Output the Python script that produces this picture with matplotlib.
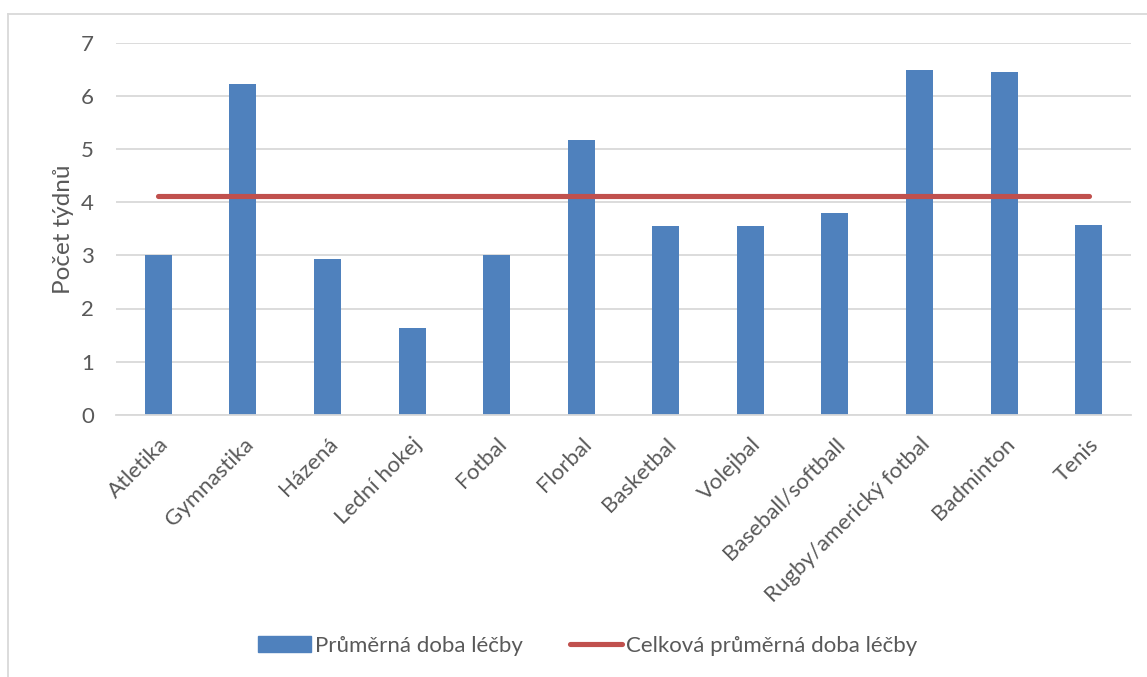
import matplotlib
matplotlib.use("Agg")
import matplotlib.pyplot as plt
from matplotlib.patches import Patch
from matplotlib.lines import Line2D
import numpy as np

plt.rcParams['font.family'] = ['Lato', 'DejaVu Sans']

sports = ["Atletika", "Gymnastika", "Házená", "Lední hokej", "Fotbal", "Florbal",
          "Basketbal", "Volejbal", "Baseball/softball", "Rugby/americký fotbal",
          "Badminton", "Tenis"]
avg_weeks = [3.0, 6.23, 2.94, 1.63, 3.0, 5.17, 3.55, 3.55, 3.80, 6.50, 6.46, 3.57]
overall_avg = 4.11

bar_label = "Průměrná doba léčby"
line_label = "Celková průměrná doba léčby"
y_label = "Počet týdnů"

bar_color = "#4f81bd"
line_color = "#c0504d"
text_color = "#595959"
grid_color = "#d9d9d9"

W, H = 1147, 677
fig = plt.figure(figsize=(W / 100, H / 100), dpi=100)
ax = fig.add_axes([116 / W, 1 - 414.7 / H, (1131 - 116) / W, (414.7 - 43) / H])

x = np.arange(len(sports))
ax.bar(x, avg_weeks, width=0.32, color=bar_color, zorder=2)
ax.plot([x[0], x[-1]], [overall_avg, overall_avg], color=line_color, lw=3.7,
        solid_capstyle='round', zorder=3)

ax.set_xlim(-0.5, len(sports) - 0.5)
ax.set_ylim(0, 7)
ax.set_yticks(range(0, 8))
ax.yaxis.grid(True, color=grid_color, lw=1.3, zorder=0)
ax.set_axisbelow(True)
for s in ["top", "right", "left"]:
    ax.spines[s].set_visible(False)
ax.spines["bottom"].set_color(grid_color)
ax.spines["bottom"].set_linewidth(1.3)
ax.tick_params(axis='both', length=0, colors=text_color, labelsize=16)
ax.tick_params(axis='y', pad=16)
ax.set_xticks(x)
ax.set_xticklabels(sports, rotation=45, ha='right', rotation_mode='anchor')
ax.tick_params(axis='x', pad=14)
ax.set_ylabel(y_label, color=text_color, fontsize=17.5, labelpad=5)

handles = [Patch(color=bar_color, label=bar_label),
           Line2D([], [], color=line_color, lw=3.7, solid_capstyle='round', label=line_label)]
fig.legend(handles=handles, loc='center', bbox_to_anchor=(588 / W, 1 - 646 / H), ncol=2,
           frameon=False, fontsize=16, labelcolor=text_color, handlelength=2.35,
           handletextpad=0.2, columnspacing=2.1)

# chart area border
fig.add_artist(Line2D([8 / W, 8 / W], [0, 1 - 14 / H], transform=fig.transFigure,
                      color=grid_color, lw=1.3))
fig.add_artist(Line2D([8 / W, 1], [1 - 14 / H, 1 - 14 / H], transform=fig.transFigure,
                      color=grid_color, lw=1.3))

fig.savefig("out.png", dpi=100)
